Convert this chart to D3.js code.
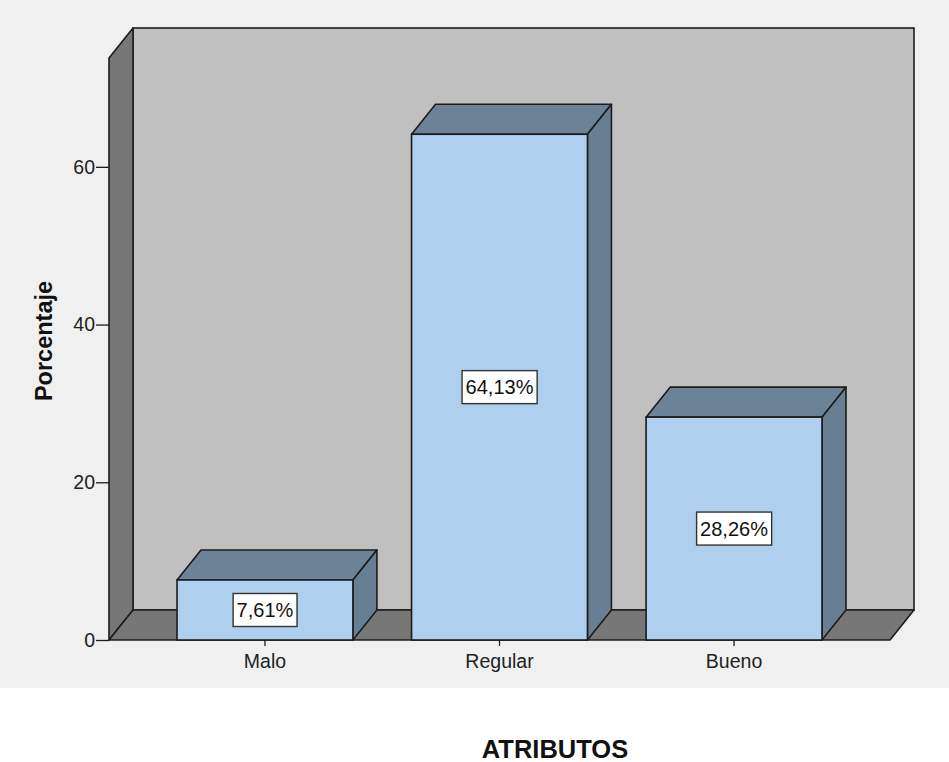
<!DOCTYPE html>
<html>
<head>
<meta charset="utf-8">
<script src="https://cdn.jsdelivr.net/npm/d3@7"></script>
<style>
  html, body { margin: 0; padding: 0; background: #ffffff; }
  svg { display: block; font-family: Arial, "Liberation Sans", sans-serif; }
</style>
</head>
<body>
<svg id="chart" width="949" height="762"></svg>
<script>
// Categories and their percentages
const categories = ["Malo", "Regular", "Bueno"];
const values = [7.61, 64.13, 28.26];
const valueLabels = ["7,61%", "64,13%", "28,26%"];
const yTicks = [0, 20, 40, 60];

const svg = d3.select("#chart");
const W = 949;
const FONT = "Arial, 'Liberation Sans', sans-serif";

// Plot frame
const frame = { left: 109, right: 890, top: 58, bottom: 640 };
const depth = { dx: 24, dy: 30 };

const x = d3.scaleBand()
  .domain(categories)
  .range([frame.left, frame.right])
  .paddingInner(0.25)
  .paddingOuter(0.29);

const y = d3.scaleLinear()
  .domain([0, 73.8])
  .range([frame.bottom, frame.top]);

const stroke = "#1c1c1c";

// Light panel behind the chart
svg.append("rect").attr("x", 0).attr("y", 0).attr("width", W).attr("height", 688)
  .attr("fill", "#f0f0f0");

// Back wall
svg.append("rect")
  .attr("x", frame.left + depth.dx).attr("y", frame.top - depth.dy)
  .attr("width", frame.right - frame.left).attr("height", frame.bottom - frame.top)
  .attr("fill", "#c0c0c0").attr("stroke", stroke).attr("stroke-width", 1.6);

// Left wall
const poly = pts => pts.map(p => p.join(",")).join(" ");
svg.append("polygon")
  .attr("points", poly([
    [frame.left, frame.top], [frame.left + depth.dx, frame.top - depth.dy],
    [frame.left + depth.dx, frame.bottom - depth.dy], [frame.left, frame.bottom]
  ]))
  .attr("fill", "#777777").attr("stroke", stroke).attr("stroke-width", 1.6)
  .attr("stroke-linejoin", "round");

// Floor
svg.append("polygon")
  .attr("points", poly([
    [frame.left, frame.bottom], [frame.left + depth.dx, frame.bottom - depth.dy],
    [frame.right + depth.dx, frame.bottom - depth.dy], [frame.right, frame.bottom]
  ]))
  .attr("fill", "#777777").attr("stroke", stroke).attr("stroke-width", 1.6)
  .attr("stroke-linejoin", "round");

// Y axis
const yAxis = d3.axisLeft(y).tickValues(yTicks).tickSize(13).tickPadding(1);
const gy = svg.append("g").attr("transform", `translate(${frame.left},0)`).call(yAxis);
gy.select(".domain").remove();
gy.selectAll(".tick line").attr("stroke", stroke).attr("stroke-width", 1.3);
gy.selectAll(".tick text").attr("font-size", 19.5).attr("fill", "#222").attr("font-family", FONT);

// X axis
const xAxis = d3.axisBottom(x).tickSize(6).tickPadding(8);
const gx = svg.append("g").attr("transform", `translate(0,${frame.bottom})`).call(xAxis);
gx.select(".domain").remove();
gx.selectAll(".tick line").attr("stroke", stroke).attr("stroke-width", 1.3);
gx.selectAll(".tick text").attr("font-size", 19.5).attr("fill", "#222").attr("font-family", FONT);

// 3D bars
const bars = svg.append("g");
const data = categories.map((c, i) => ({ c, v: values[i], label: valueLabels[i] }));
const bw = x.bandwidth();

bars.selectAll("g.bar").data(data).join("g").attr("class", "bar").each(function(d) {
  const g = d3.select(this);
  const x0 = x(d.c), x1 = x0 + bw;
  const yt = y(d.v), yb = y(0);
  // top face
  g.append("polygon")
    .attr("points", poly([[x0, yt], [x0 + depth.dx, yt - depth.dy], [x1 + depth.dx, yt - depth.dy], [x1, yt]]))
    .attr("fill", "#6b8297").attr("stroke", stroke).attr("stroke-width", 1.6).attr("stroke-linejoin", "round");
  // side face
  g.append("polygon")
    .attr("points", poly([[x1, yt], [x1 + depth.dx, yt - depth.dy], [x1 + depth.dx, yb - depth.dy], [x1, yb]]))
    .attr("fill", "#677e93").attr("stroke", stroke).attr("stroke-width", 1.6).attr("stroke-linejoin", "round");
  // front face
  g.append("rect")
    .attr("x", x0).attr("y", yt).attr("width", bw).attr("height", yb - yt)
    .attr("fill", "#aecfee").attr("stroke", stroke).attr("stroke-width", 1.6);

  // value label box
  const cx = x0 + bw / 2, cy = y(d.v / 2);
  const t = g.append("text")
    .attr("x", cx).attr("y", cy).attr("dy", "0.36em")
    .attr("text-anchor", "middle").attr("font-size", 20).attr("fill", "#111")
    .attr("font-family", FONT)
    .text(d.label);
  const bb = t.node().getBBox();
  g.insert("rect", "text")
    .attr("x", bb.x - 3.5).attr("y", cy - 16.5).attr("width", bb.width + 7).attr("height", 33)
    .attr("fill", "#ffffff").attr("stroke", "#333").attr("stroke-width", 1.4);
});

// Axis titles
svg.append("text")
  .attr("transform", `translate(52,341) rotate(-90)`)
  .attr("text-anchor", "middle").attr("font-size", 23.5).attr("font-weight", "bold").attr("fill", "#111")
  .attr("font-family", FONT)
  .text("Porcentaje");

svg.append("text")
  .attr("x", 555).attr("y", 758)
  .attr("text-anchor", "middle").attr("font-size", 25.5).attr("font-weight", "bold").attr("fill", "#111")
  .attr("font-family", FONT)
  .text("ATRIBUTOS");
</script>
</body>
</html>
